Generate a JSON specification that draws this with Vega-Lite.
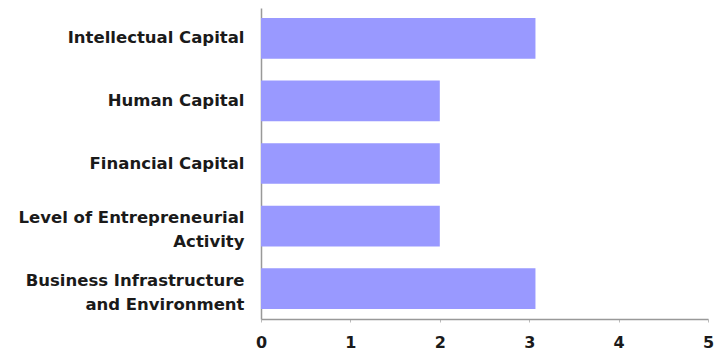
{
  "$schema": "https://vega.github.io/schema/vega-lite/v6.json",
  "autosize": "none",
  "width": 447,
  "height": 311,
  "padding": {"left": 261, "top": 8, "right": 7, "bottom": 34},
  "background": "white",
  "data": {"values": [
    {"category": "Intellectual Capital", "value": 3.07},
    {"category": "Human Capital", "value": 2.0},
    {"category": "Financial Capital", "value": 2.0},
    {"category": "Level of Entrepreneurial|Activity", "value": 2.0},
    {"category": "Business Infrastructure|and Environment", "value": 3.07}
  ]},
  "mark": {"type": "bar", "color": "#9999ff"},
  "encoding": {
    "y": {
      "field": "category", "type": "nominal", "sort": null,
      "scale": {"paddingInner": 0.35, "paddingOuter": 0.16},
      "axis": {
        "title": null, "ticks": false, "labelPadding": 17,
        "labelExpr": "split(datum.value, '|')",
        "labelFont": "DejaVu Sans", "labelFontSize": 16.5, "labelFontWeight": "bold",
        "labelColor": "#1a1a1a", "labelLineHeight": 24,
        "domainColor": "#999", "domainWidth": 1.5, "labelLimit": 300,
        "labelOffset": {"condition": {"test": "indexof(datum.value, '|') >= 0", "value": -8}, "value": 0}
      }
    },
    "x": {
      "field": "value", "type": "quantitative",
      "scale": {"domain": [0, 5], "nice": false},
      "axis": {
        "title": null, "grid": false, "values": [0,1,2,3,4,5],
        "labelOverlap": false,
        "labelFont": "DejaVu Sans", "labelFontSize": 16, "labelFontWeight": "bold",
        "labelColor": "#1a1a1a", "labelPadding": 12, "tickSize": 3, "tickColor": "#bbb",
        "domainColor": "#999", "domainWidth": 1.5, "labelFlush": false
      }
    }
  },
  "config": {"view": {"stroke": null}}
}
